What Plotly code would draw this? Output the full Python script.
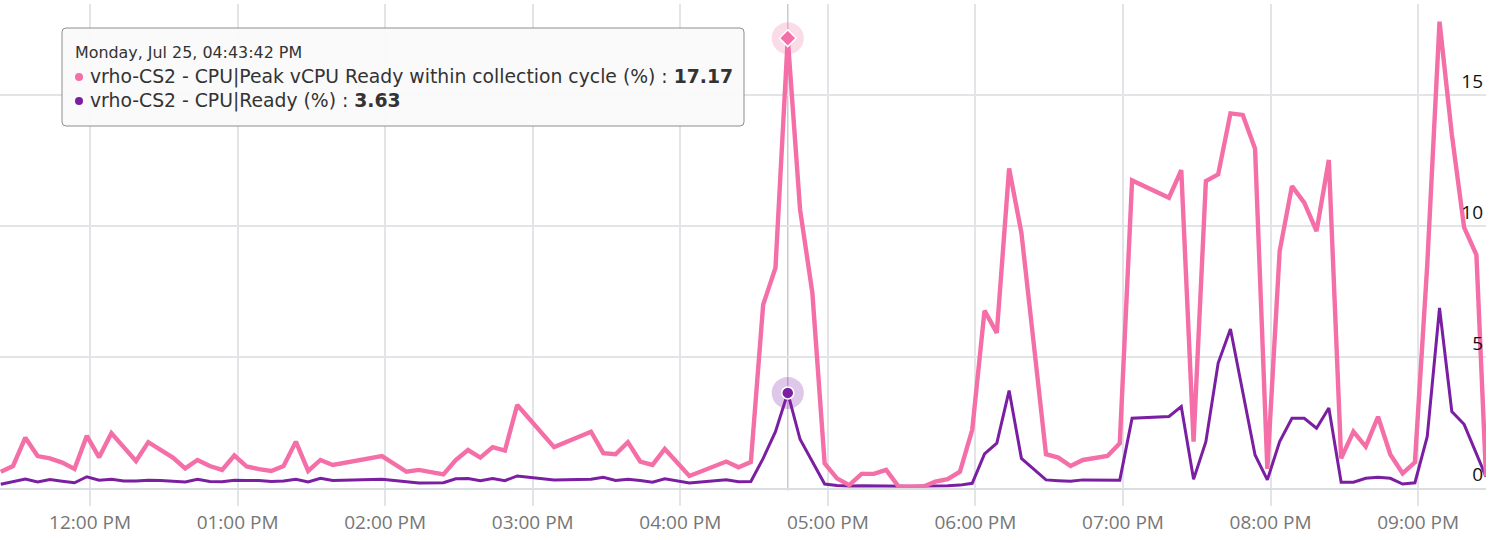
import plotly.graph_objects as go

DATE = "2022-07-25"

times = [
    "11:23:42", "11:28:42", "11:33:42", "11:38:42", "11:43:42", "11:48:42", "11:53:42", "11:58:42",
    "12:03:42", "12:08:42", "12:13:42", "12:18:42", "12:23:42", "12:28:42", "12:33:42", "12:38:42",
    "12:43:42", "12:48:42", "12:53:42", "12:58:42",
    "13:03:42", "13:08:42", "13:13:42", "13:18:42", "13:23:42", "13:28:42", "13:33:42", "13:38:42",
    "13:58:42",
    "14:08:42", "14:13:42",
    "14:23:42", "14:28:42", "14:33:42", "14:38:42", "14:43:42", "14:48:42", "14:53:42",
    "15:08:42",
    "15:23:42", "15:28:42", "15:33:42", "15:38:42", "15:43:42", "15:48:42", "15:53:42", "15:58:42", "16:03:42",
    "16:18:42", "16:23:42", "16:28:42", "16:33:42", "16:38:42", "16:43:42", "16:48:42", "16:53:42", "16:58:42",
    "17:03:42", "17:08:42", "17:13:42", "17:18:42", "17:23:42", "17:28:42", "17:33:42", "17:38:42",
    "17:43:42", "17:48:42", "17:53:42", "17:58:42",
    "18:03:42", "18:08:42", "18:13:42", "18:18:42", "18:23:42", "18:28:42", "18:33:42", "18:38:42",
    "18:43:42", "18:48:42", "18:53:42", "18:58:42",
    "19:03:42",
    "19:18:42", "19:23:42", "19:28:42", "19:33:42", "19:38:42", "19:43:42", "19:48:42", "19:53:42", "19:58:42",
    "20:03:42", "20:08:42", "20:13:42", "20:18:42", "20:23:42", "20:28:42", "20:33:42", "20:38:42",
    "20:43:42", "20:48:42", "20:53:42", "20:58:42",
    "21:03:42", "21:08:42", "21:13:42", "21:18:42", "21:23:42", "21:27:36",
]

peak_vcpu_ready = [
    0.62, 0.84, 1.92, 1.22, 1.13, 0.97, 0.73, 1.99,
    1.17, 2.09, 1.56, 1.03, 1.75, 1.45, 1.16, 0.75, 1.07, 0.84, 0.69, 1.24,
    0.82, 0.72, 0.65, 0.84, 1.77, 0.65, 1.07, 0.88,
    1.22,
    0.62, 0.69,
    0.52, 1.07, 1.45, 1.16, 1.56, 1.43, 3.17,
    1.56,
    2.15, 1.33, 1.29, 1.75, 1.01, 0.88, 1.49, 0.98, 0.46,
    1.01, 0.79, 0.99, 7.0, 8.4, 17.17, 10.63, 7.45, 0.94,
    0.37, 0.11, 0.54, 0.54, 0.69, 0.06, 0.05, 0.05, 0.24, 0.34, 0.62, 2.22,
    6.77, 5.92, 12.2, 9.74, 5.52, 1.29, 1.16, 0.84, 1.07, 1.13, 1.22, 1.71,
    11.74,
    11.08, 12.13, 1.77, 11.71, 11.97, 14.3, 14.24, 12.95, 0.73,
    9.04, 11.52, 10.89, 9.80, 12.52, 1.13, 2.15, 1.58, 2.72, 1.28, 0.56, 0.98,
    8.5, 17.8, 13.5, 9.95, 8.9, 0.45,
]

cpu_ready = [
    0.14, 0.24, 0.34, 0.23, 0.32, 0.26, 0.20, 0.43,
    0.30, 0.33, 0.27, 0.27, 0.30, 0.29, 0.27, 0.23, 0.33, 0.25, 0.24, 0.30,
    0.29, 0.29, 0.25, 0.27, 0.33, 0.23, 0.37, 0.29,
    0.33,
    0.22, 0.19,
    0.20, 0.35, 0.36, 0.28, 0.36, 0.28, 0.46,
    0.31,
    0.33, 0.41, 0.29, 0.33, 0.29, 0.22, 0.35, 0.27, 0.19,
    0.31, 0.24, 0.25, 1.13, 2.15, 3.63, 1.86, 1.01, 0.15,
    0.10, 0.08, 0.09, 0.08, 0.09, 0.07, 0.07, 0.08, 0.08, 0.09, 0.11, 0.18,
    1.30, 1.71, 3.72, 1.13, 0.72, 0.31, 0.28, 0.26, 0.31, 0.30, 0.30, 0.30,
    2.66,
    2.73, 3.11, 0.33, 1.77, 4.77, 6.07, 3.68, 1.26, 0.31,
    1.77, 2.66, 2.66, 2.28, 3.05, 0.22, 0.22, 0.37, 0.41, 0.37, 0.15, 0.20,
    1.96, 6.87, 2.92, 2.43, 1.27, 0.43,
]

tick_times = ["12:00:00", "13:00:00", "14:00:00", "15:00:00", "16:00:00",
              "17:00:00", "18:00:00", "19:00:00", "20:00:00", "21:00:00"]
tick_labels = ["12:00 PM", "01:00 PM", "02:00 PM", "03:00 PM", "04:00 PM",
               "05:00 PM", "06:00 PM", "07:00 PM", "08:00 PM", "09:00 PM"]
y_ticks = [0, 5, 10, 15]

series_names = ["vrho-CS2 - CPU|Peak vCPU Ready within collection cycle (%)",
                "vrho-CS2 - CPU|Ready (%)"]
hover_time = "16:43:42"
hover_label = "Monday, Jul 25, 04:43:42 PM"
x_range = ["11:23:24", "21:27:36"]

PINK = "#F46FA7"
PURPLE = "#7B1FA2"
GRID = "#E2E4E8"
FONT = "Open Sans"
TIP_FONT = "DejaVu Sans"

x = [f"{DATE} {t}" for t in times]
hx = f"{DATE} {hover_time}"
hi = times.index(hover_time)

W, H = 1498, 540
ML, MR, MT, MB = 0, 12, 4, 52
PW, PH = W - ML - MR, H - MT - MB


def px(v):
    return (v - ML) / PW


def py(v):
    return (H - MB - v) / PH


fig = go.Figure()
fig.add_trace(go.Scatter(x=x, y=cpu_ready, mode="lines", name=series_names[1],
                         line=dict(color=PURPLE, width=3), hoverinfo="skip"))
fig.add_trace(go.Scatter(x=x, y=peak_vcpu_ready, mode="lines", name=series_names[0],
                         line=dict(color=PINK, width=4.4), hoverinfo="skip"))

# hover halos and markers
fig.add_trace(go.Scatter(x=[hx], y=[peak_vcpu_ready[hi]], mode="markers",
                         marker=dict(size=32, color="rgba(244,111,167,0.25)"), hoverinfo="skip"))
fig.add_trace(go.Scatter(x=[hx], y=[peak_vcpu_ready[hi]], mode="markers",
                         marker=dict(size=13, symbol="diamond", color=PINK,
                                     line=dict(color="white", width=1.5)), hoverinfo="skip"))
fig.add_trace(go.Scatter(x=[hx], y=[cpu_ready[hi]], mode="markers",
                         marker=dict(size=32, color="rgba(123,31,162,0.25)"), hoverinfo="skip"))
fig.add_trace(go.Scatter(x=[hx], y=[cpu_ready[hi]], mode="markers",
                         marker=dict(size=12, color=PURPLE,
                                     line=dict(color="white", width=1.5)), hoverinfo="skip"))

shapes = [
    dict(type="line", xref="x", yref="paper", x0=hx, x1=hx, y0=-0.005, y1=1,
         line=dict(color="#C9CBCF", width=1.5), layer="below"),
]

# tooltip box (rounded)
bx0, bx1, by0, by1 = 62, 744, 28, 126
r = 4
rx, ry = r / PW, r / PH
X0, X1, Y0, Y1 = px(bx0), px(bx1), py(by1), py(by0)
path = (f"M {X0+rx},{Y1} L {X1-rx},{Y1} Q {X1},{Y1} {X1},{Y1-ry} "
        f"L {X1},{Y0+ry} Q {X1},{Y0} {X1-rx},{Y0} L {X0+rx},{Y0} "
        f"Q {X0},{Y0} {X0},{Y0+ry} L {X0},{Y1-ry} Q {X0},{Y1} {X0+rx},{Y1} Z")
shapes.append(dict(type="path", xref="paper", yref="paper", path=path,
                   fillcolor="rgba(250,250,250,0.96)", line=dict(color="#8E8E8E", width=1),
                   layer="above"))
for cy, col in [(77, PINK), (101, PURPLE)]:
    d = 4
    shapes.append(dict(type="circle", xref="paper", yref="paper",
                       x0=px(79 - d), x1=px(79 + d), y0=py(cy + d), y1=py(cy - d),
                       fillcolor=col, line=dict(width=0), layer="above"))

annotations = [
    dict(xref="paper", yref="paper", x=px(73), y=py(52), xanchor="left", yanchor="middle",
         text=hover_label, showarrow=False, font=dict(family=TIP_FONT, size=15.9, color="#333333")),
    dict(xref="paper", yref="paper", x=px(88), y=py(77), xanchor="left", yanchor="middle",
         text=f"{series_names[0]} : <b>{peak_vcpu_ready[hi]:.2f}</b>", showarrow=False,
         font=dict(family=TIP_FONT, size=18.8, color="#333333")),
    dict(xref="paper", yref="paper", x=px(88), y=py(101), xanchor="left", yanchor="middle",
         text=f"{series_names[1]} : <b>{cpu_ready[hi]:.2f}</b>", showarrow=False,
         font=dict(family=TIP_FONT, size=18.8, color="#333333")),
]

fig.update_layout(
    width=W, height=H,
    margin=dict(l=ML, r=MR, t=MT, b=MB),
    paper_bgcolor="white", plot_bgcolor="white",
    showlegend=False, hovermode=False,
    shapes=shapes, annotations=annotations,
    xaxis=dict(
        type="date",
        range=[f"{DATE} {x_range[0]}", f"{DATE} {x_range[1]}"],
        tickvals=[f"{DATE} {t}" for t in tick_times], ticktext=tick_labels,
        showgrid=True, gridcolor=GRID, gridwidth=1.5,
        ticks="outside", ticklen=16, tickcolor=GRID, tickwidth=1.5,
        tickfont=dict(family=FONT, size=19, color="#767676"),
        showline=True, linecolor="#DADDE2", linewidth=2,
        zeroline=False, fixedrange=True,
    ),
    yaxis=dict(
        range=[0, PH / 26.2], side="right",
        tickvals=y_ticks, ticktext=[str(v) for v in y_ticks],
        ticklabelposition="inside top",
        showgrid=True, gridcolor=GRID, gridwidth=1.5,
        tickfont=dict(family=FONT, size=19, color="#111111"),
        zeroline=False, showline=False, ticks="", fixedrange=True,
    ),
)

fig.write_html("out.html", config={"displayModeBar": False})
